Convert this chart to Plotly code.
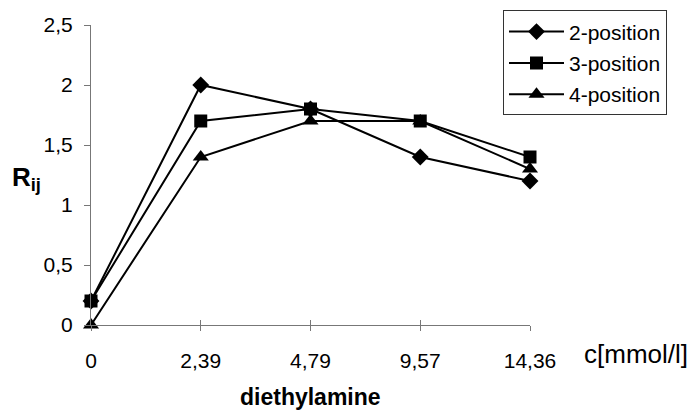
import plotly.graph_objects as go

categories = ["0", "2,39", "4,79", "9,57", "14,36"]
pos2 = [0.2, 2.0, 1.8, 1.4, 1.2]
pos3 = [0.2, 1.7, 1.8, 1.7, 1.4]
pos4 = [0.0, 1.4, 1.7, 1.7, 1.3]
series_names = ["2-position", "3-position", "4-position"]
y_ticks = [0, 0.5, 1, 1.5, 2, 2.5]
y_tick_labels = ["0", "0,5", "1", "1,5", "2", "2,5"]

FONT = "Liberation Sans, Arial, sans-serif"
idx = list(range(len(categories)))

fig = go.Figure()
symbols = ["diamond", "square", "triangle-up"]
sizes = [13, 13, 14]
for name, vals, sym, sz in zip(series_names, [pos2, pos3, pos4], symbols, sizes):
    fig.add_trace(go.Scatter(
        x=idx, y=vals, name=name, mode="lines+markers",
        line=dict(color="black", width=2),
        marker=dict(symbol=sym, size=sz, color="black"),
        cliponaxis=False, legendgroup=name,
    ))

fig.update_layout(
    width=697, height=410,
    margin=dict(l=91, r=167, t=24, b=85),
    paper_bgcolor="white", plot_bgcolor="white",
    font=dict(family=FONT, size=21, color="black"),
    showlegend=True,
    legend=dict(
        x=0.9385, y=1.045, xanchor="left", yanchor="top",
        bgcolor="white", bordercolor="#333", borderwidth=1,
        font=dict(family=FONT, size=21, color="black"),
        traceorder="grouped", tracegroupgap=1, itemwidth=55,
    ),
    xaxis=dict(
        range=[0, 4], tickmode="array", tickvals=idx, ticktext=categories,
        showgrid=False, zeroline=False, showline=True, linecolor="#777", linewidth=1,
        ticks="outside", ticklen=5, tickcolor="#777", ticklabelstandoff=12,
        tickfont=dict(size=21),
    ),
    xaxis2=dict(
        range=[0, 4], overlaying="x", side="bottom", anchor="y",
        tickmode="array", tickvals=idx, showticklabels=False,
        showgrid=False, zeroline=False, showline=False,
        ticks="inside", ticklen=5, tickcolor="#777",
    ),
    yaxis=dict(
        range=[0, 2.5], tickmode="array", tickvals=y_ticks, ticktext=y_tick_labels,
        showgrid=False, zeroline=False, showline=True, linecolor="#777", linewidth=1,
        ticks="outside", ticklen=6, tickcolor="#777", ticklabelstandoff=7,
        tickfont=dict(size=21),
    ),
)

# dummy trace to activate xaxis2
fig.add_trace(go.Scatter(x=[0], y=[None], xaxis="x2", showlegend=False, hoverinfo="skip"))

fig.add_annotation(text="<b>R<sub>ij</sub></b>", xref="paper", yref="paper",
                   x=-0.185, y=0.49, xanchor="left", yanchor="middle", showarrow=False,
                   font=dict(family=FONT, size=26, color="black"))
fig.add_annotation(text="c[mmol/l]", xref="paper", yref="paper",
                   x=1.118, y=-0.096, xanchor="left", yanchor="middle", showarrow=False,
                   font=dict(family=FONT, size=26, color="black"))
fig.add_annotation(text="<b>diethylamine</b>", xref="paper", yref="paper",
                   x=0.499, y=-0.24, xanchor="center", yanchor="middle", showarrow=False,
                   font=dict(family=FONT, size=23, color="black"))

fig.write_html("out.html")
